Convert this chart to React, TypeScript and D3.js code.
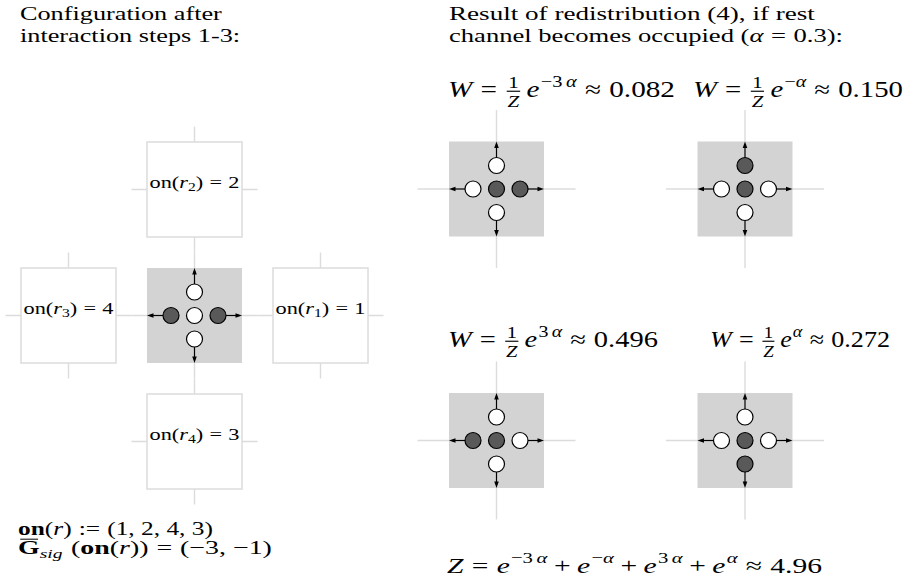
import React, { useEffect, useRef } from 'react';
import * as d3 from 'd3';

// Channel order of a lattice node: up, left, rest, right, down (1 = occupied)
const channelDirs: [number, number][] = [[0, -1], [-1, 0], [0, 0], [1, 0], [0, 1]];
const initialChannels = [0, 1, 0, 1, 0];

// Neighbours r1..r4 of the central node and their values on(r_i)
const neighborDirs: [number, number][] = [[1, 0], [0, -1], [-1, 0], [0, 1]];
const neighborOn = [1, 2, 4, 3];
const signalValues = [-3, -1];

// Possible outcomes of the redistribution
const outcomeChannels = [
  [0, 0, 1, 1, 0],
  [1, 0, 1, 0, 0],
  [0, 1, 1, 0, 0],
  [0, 0, 1, 0, 1],
];
const outcomeGrid: [number, number][] = [[0, 0], [1, 0], [0, 1], [1, 1]];
const weightExponents = [-3, -1, 3, 1];
const weightValues = [0.082, 0.150, 0.496, 0.272];
const partitionSum = 4.96;
const alphaValue = 0.3;

const W = 916;
const H = 582;
const CELL = 95;
const STEP = 23.5;
const RAD = 8;
const FONT = 'Liberation Serif, DejaVu Serif, serif';
const GRID = '#dcdcdc';
const SHADE = '#d3d3d3';

type Tok = {
  t?: string; it?: boolean; bf?: boolean; sup?: boolean; sub?: boolean;
  frac?: [string, string]; sp?: number; bar?: boolean;
};

const rel = (s: string): Tok[] => [{ sp: 0.28 }, { t: s }, { sp: 0.28 }];
const bin = (s: string): Tok[] => [{ sp: 0.22 }, { t: s }, { sp: 0.22 }];

function expToks(k: number): Tok[] {
  const out: Tok[] = [];
  const sign = k < 0 ? '\u2212' : '';
  if (Math.abs(k) !== 1) {
    out.push({ t: sign + Math.abs(k), sup: true });
    out.push({ sp: 0.12 });
  } else if (sign) {
    out.push({ t: sign, sup: true });
  }
  out.push({ t: '\u03b1', it: true, sup: true });
  return out;
}

function typeset(
  parent: d3.Selection<SVGGElement, unknown, null, undefined>,
  x: number, y: number, size: number, toks: Tok[],
  opts: { width?: number; scale?: number; anchor?: 'middle' } = {}
): number {
  const g = parent.append('g').style('font-family', FONT).attr('fill', '#000');
  let cx = 0;
  for (const k of toks) {
    if (k.sp != null) { cx += k.sp * size; continue; }
    if (k.frac) {
      const fs = size * 0.72;
      const num = g.append('text').attr('font-size', fs).text(k.frac[0]);
      const den = g.append('text').attr('font-size', fs).attr('font-style', 'italic').text(k.frac[1]);
      const wn = (num.node() as SVGTextElement).getComputedTextLength();
      const wd = (den.node() as SVGTextElement).getComputedTextLength();
      const w = Math.max(wn, wd) + 0.16 * size;
      num.attr('x', cx + (w - wn) / 2).attr('y', -0.4 * size);
      den.attr('x', cx + (w - wd) / 2).attr('y', 0.44 * size);
      g.append('line')
        .attr('x1', cx + 0.05 * size).attr('x2', cx + w - 0.05 * size)
        .attr('y1', -0.25 * size).attr('y2', -0.25 * size)
        .attr('stroke', '#000').attr('stroke-width', Math.max(1, 0.05 * size));
      cx += w;
      continue;
    }
    const fs = k.sup || k.sub ? size * 0.7 : size;
    const dy = k.sup ? -0.45 * size : k.sub ? 0.2 * size : 0;
    const el = g.append('text').attr('x', cx).attr('y', dy).attr('font-size', fs).text(k.t || '');
    if (k.it) el.attr('font-style', 'italic');
    if (k.bf) el.attr('font-weight', 'bold');
    const w = (el.node() as SVGTextElement).getComputedTextLength();
    if (k.bar) {
      g.append('line')
        .attr('x1', cx + 0.08 * size).attr('x2', cx + w - 0.06 * size)
        .attr('y1', -0.78 * size).attr('y2', -0.78 * size)
        .attr('stroke', '#000').attr('stroke-width', Math.max(1, 0.05 * size));
    }
    cx += w;
  }
  const sx = opts.scale ?? (opts.width ? opts.width / cx : 1);
  const x0 = opts.anchor === 'middle' ? x - (cx * sx) / 2 : x;
  g.attr('transform', `translate(${x0},${y}) scale(${sx},1)`);
  return sx;
}

function drawArrow(g: d3.Selection<SVGGElement, unknown, null, undefined>,
  x0: number, y0: number, dx: number, dy: number, from: number, to: number) {
  const tipX = x0 + dx * to, tipY = y0 + dy * to;
  const head = 6.5, half = 2.3;
  g.append('line')
    .attr('x1', x0 + dx * from).attr('y1', y0 + dy * from)
    .attr('x2', tipX - dx * 3).attr('y2', tipY - dy * 3)
    .attr('stroke', '#000').attr('stroke-width', 1.2);
  const bx = tipX - dx * head, by = tipY - dy * head;
  const px = -dy, py = dx;
  g.append('path')
    .attr('d', `M${tipX},${tipY}L${bx + px * half},${by + py * half}L${bx - px * half},${by - py * half}Z`)
    .attr('fill', '#000');
}

function drawChannels(g: d3.Selection<SVGGElement, unknown, null, undefined>,
  cx: number, cy: number, occ: number[]) {
  channelDirs.forEach(([dx, dy]) => {
    if (dx !== 0 || dy !== 0) drawArrow(g, cx, cy, dx, dy, STEP + RAD, CELL / 2);
  });
  channelDirs.forEach(([dx, dy], i) => {
    g.append('circle')
      .attr('cx', cx + dx * STEP).attr('cy', cy + dy * STEP).attr('r', RAD)
      .attr('fill', occ[i] ? '#595959' : '#fff')
      .attr('stroke', '#000').attr('stroke-width', 1.2);
  });
}

function drawArms(g: d3.Selection<SVGGElement, unknown, null, undefined>,
  cx: number, cy: number, len: number) {
  g.append('line').attr('x1', cx - len).attr('x2', cx + len).attr('y1', cy).attr('y2', cy)
    .attr('stroke', GRID).attr('stroke-width', 1.4);
  g.append('line').attr('x1', cx).attr('x2', cx).attr('y1', cy - len).attr('y2', cy + len)
    .attr('stroke', GRID).attr('stroke-width', 1.4);
}

export default function App() {
  const ref = useRef<SVGSVGElement>(null);

  useEffect(() => {
    const svg = d3.select(ref.current as SVGSVGElement);
    svg.selectAll('*').remove();
    const root = svg.append('g') as unknown as d3.Selection<SVGGElement, unknown, null, undefined>;

    // ---- Left: central node and its four neighbours ----
    const lat = d3.scaleLinear().domain([-1, 1]).range([-126, 126]);
    const cX = 194.5, cY = 315.5;
    const arms = root.append('g');
    const cells = root.append('g');
    const marks = root.append('g');

    drawArms(arms, cX, cY, 63);
    neighborDirs.forEach(([dx, dy]) => drawArms(arms, cX + lat(dx), cY + lat(dy), 63));

    cells.append('rect').attr('x', cX - CELL / 2).attr('y', cY - CELL / 2)
      .attr('width', CELL).attr('height', CELL).attr('fill', SHADE);
    neighborDirs.forEach(([dx, dy], i) => {
      const nx = cX + lat(dx), ny = cY + lat(dy);
      cells.append('rect').attr('x', nx - CELL / 2).attr('y', ny - CELL / 2)
        .attr('width', CELL).attr('height', CELL)
        .attr('fill', '#fff').attr('stroke', GRID).attr('stroke-width', 1.5);
      typeset(marks, nx, ny - 1.5, 16.5, [
        { t: 'on(' }, { t: 'r', it: true }, { t: String(i + 1), sub: true }, { t: ')' },
        ...rel('='), { t: String(neighborOn[i]) },
      ], { anchor: 'middle', width: 90 });
    });
    drawChannels(marks, cX, cY, initialChannels);

    // ---- Right: outcomes of the redistribution ----
    const ox = d3.scalePoint<number>().domain([0, 1]).range([496.5, 745]);
    const oy = d3.scalePoint<number>().domain([0, 1]).range([189, 440.5]);
    outcomeGrid.forEach(([c, r]) => drawArms(arms, ox(c)!, oy(r)!, 79));
    outcomeGrid.forEach(([c, r], i) => {
      const x = ox(c)!, y = oy(r)!;
      cells.append('rect').attr('x', x - CELL / 2).attr('y', y - CELL / 2)
        .attr('width', CELL).attr('height', CELL).attr('fill', SHADE);
      drawChannels(marks, x, y, outcomeChannels[i]);
    });

    // ---- Text ----
    const t = root.append('g');
    const s1 = typeset(t, 20, 20, 19.5, [{ t: 'Configuration after' }], { width: 202 });
    typeset(t, 20, 42, 19.5, [{ t: 'interaction steps 1-3:' }], { scale: s1 });

    typeset(t, 449, 20, 19.5, [{ t: 'Result of redistribution (4), if rest' }], { width: 366 });
    typeset(t, 449, 42, 19.5, [
      { t: 'channel becomes occupied (' }, { t: '\u03b1', it: true }, ...rel('='),
      { t: `${alphaValue}):` },
    ], { width: 394 });

    const eqLayout: [number, number, number][] = [
      [448, 97, 227], [693, 97, 210], [448, 347, 210], [710, 347, 180],
    ];
    const f3 = d3.format('.3f');
    weightExponents.forEach((k, i) => {
      const [x, y, w] = eqLayout[i];
      typeset(t, x, y, 23, [
        { t: 'W', it: true }, ...rel('='), { frac: ['1', 'Z'] }, { sp: 0.17 },
        { t: 'e', it: true }, { sp: 0.04 }, ...expToks(k), ...rel('\u2248'), { t: f3(weightValues[i]) },
      ], { width: w });
    });

    const zToks: Tok[] = [{ t: 'Z', it: true }, ...rel('=')];
    weightExponents.forEach((k, i) => {
      zToks.push({ t: 'e', it: true }, { sp: 0.04 }, ...expToks(k));
      if (i < weightExponents.length - 1) zToks.push(...bin('+'));
    });
    zToks.push(...rel('\u2248'), { t: d3.format('.2f')(partitionSum) });
    typeset(t, 447, 573, 22, zToks, { width: 375 });

    typeset(t, 18, 535, 19, [
      { t: 'on', bf: true }, { t: '(' }, { t: 'r', it: true }, { t: ')' }, ...rel(':='),
      { t: `(${neighborOn.join(', ')})` },
    ], { width: 195 });
    typeset(t, 18, 554, 19, [
      { t: 'G', bf: true, bar: true }, { t: 'sig', it: true, sub: true }, { sp: 0.3 },
      { t: '(' }, { t: 'on', bf: true }, { t: '(' }, { t: 'r', it: true }, { t: '))' },
      ...rel('='), { t: `(${signalValues.map((v) => (v < 0 ? '\u2212' : '') + Math.abs(v)).join(', ')})` },
    ], { width: 254 });
  }, []);

  return (
    <svg ref={ref} width={W} height={H}
      style={{ position: 'absolute', left: 0, top: 0, background: '#fff', display: 'block' }} />
  );
}
